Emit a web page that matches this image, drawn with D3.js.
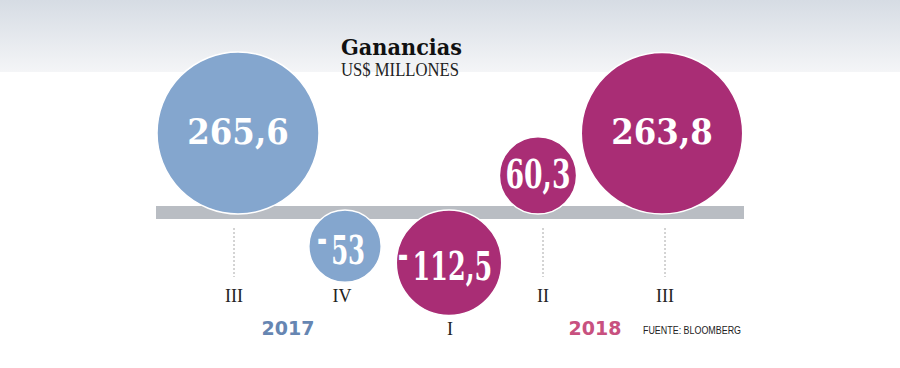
<!DOCTYPE html>
<html>
<head>
<meta charset="utf-8">
<script src="https://cdn.jsdelivr.net/npm/d3@7"></script>
<style>
  html, body { margin: 0; padding: 0; background: #fff; }
  svg { display: block; }
</style>
</head>
<body>
<svg id="chart" width="900" height="368"></svg>
<script>
// ---- data ----
const quarters = ["III", "IV", "I", "II", "III"];
const quarterYear = ["2017", "2017", "2018", "2018", "2018"];
const values = [265.6, -53, -112.5, 60.3, 263.8];
const yearLabels = ["2017", "2018"];
const title = "Ganancias";
const subtitle = "US$ MILLONES";
const source = "FUENTE: BLOOMBERG";

// ---- styles ----
const yearColor = { "2017": "#84a6ce", "2018": "#a92d75" };
const yearTextColor = { "2017": "#6686b2", "2018": "#c8517f" };

const svg = d3.select("#chart");
const defs = svg.append("defs");
const grad = defs.append("linearGradient").attr("id", "bg").attr("x1", 0).attr("x2", 0).attr("y1", 0).attr("y2", 1);
grad.append("stop").attr("offset", "0%").attr("stop-color", "#d6dce4");
grad.append("stop").attr("offset", "100%").attr("stop-color", "#f4f5f7");
svg.append("rect").attr("width", 900).attr("height", 72).attr("fill", "url(#bg)");

const idx = d3.range(values.length);
const x = d3.scaleLinear().domain(idx).range([238, 345, 449, 538, 662]);
const xLab = d3.scaleLinear().domain(idx).range([234, 342, 450, 543, 665]);
const r = d3.scaleSqrt().domain([0, d3.max(values, Math.abs)]).range([0, 81]);
const baseY = 212;
const rad = (i) => r(Math.abs(values[i]));
const small = (i) => rad(i) < 60;
const fs = (i) => small(i) ? 40 : 36;

const cy = (v) => v >= 0 ? baseY + 2 - r(Math.abs(v)) : baseY - 2 + r(Math.abs(v));
const fmt = (v) => String(Math.abs(v)).replace(".", ",");

// bar
svg.append("rect").attr("x", 156).attr("y", 206).attr("width", 588).attr("height", 13).attr("fill", "#b9bdc3");

// dashed ticks for positive
svg.selectAll("line.tick").data(idx.filter(i => values[i] >= 0)).join("line")
  .attr("x1", i => xLab(i)).attr("x2", i => xLab(i))
  .attr("y1", 228).attr("y2", 277)
  .attr("stroke", "#a8a8a8").attr("stroke-width", 1).attr("stroke-dasharray", "2,2");

// circles
svg.selectAll("circle.b").data(idx).join("circle")
  .attr("cx", i => x(i)).attr("cy", i => cy(values[i]))
  .attr("r", i => rad(i))
  .attr("fill", i => yearColor[quarterYear[i]])
  .attr("stroke", "#fff").attr("stroke-width", 1.5);

// values
const vt = svg.selectAll("text.v").data(idx).join("text")
  .attr("x", i => x(i) - (values[i] < 0 ? 4 : 0))
  .attr("y", i => cy(values[i]) + fs(i) * (values[i] >= 0 ? 0.31 : 0.44))
  .attr("text-anchor", "middle")
  .attr("fill", "#fff")
  .attr("font-family", "'DejaVu Serif Condensed', 'DejaVu Serif', serif")
  .attr("font-weight", "bold")
  .attr("font-size", i => fs(i));
vt.each(function (i) {
  const t = d3.select(this);
  if (values[i] < 0) {
    t.append("tspan").text("-").attr("dy", -12);
    t.append("tspan").text(fmt(values[i])).attr("dy", 12).attr("dx", 6);
  } else {
    t.text(fmt(values[i]));
  }
  if (small(i)) {
    const w = this.getComputedTextLength();
    t.attr("textLength", w * 0.74).attr("lengthAdjust", "spacingAndGlyphs");
  }
});

// quarter labels
svg.selectAll("text.q").data(idx).join("text")
  .attr("x", i => xLab(i))
  .attr("y", i => values[i] >= 0 ? 302 : Math.max(302, cy(values[i]) + rad(i) + 20))
  .attr("text-anchor", "middle")
  .attr("font-family", "'Liberation Serif', serif")
  .attr("font-size", 18)
  .attr("fill", "#222")
  .text(i => quarters[i]);

// year labels
const yearX = { "2017": (xLab(0) + xLab(1)) / 2, "2018": (xLab(3) + xLab(4)) / 2 - 9 };
svg.selectAll("text.y").data(yearLabels).join("text")
  .attr("x", d => yearX[d]).attr("y", 335)
  .attr("text-anchor", "middle")
  .attr("font-family", "'DejaVu Sans', sans-serif")
  .attr("font-weight", "bold")
  .attr("font-size", 19)
  .attr("fill", d => yearTextColor[d])
  .text(d => d);

// source
svg.append("text").attr("x", 643).attr("y", 334)
  .attr("font-family", "'Liberation Sans Narrow', 'Liberation Sans', sans-serif")
  .attr("font-size", 11).attr("fill", "#222")
  .attr("textLength", 98).attr("lengthAdjust", "spacingAndGlyphs")
  .text(source);

// title
svg.append("text").attr("x", 341).attr("y", 55)
  .attr("font-family", "'DejaVu Serif Condensed', 'DejaVu Serif', serif").attr("font-weight", "bold")
  .attr("font-size", 22).attr("fill", "#111")
  .attr("textLength", 121).attr("lengthAdjust", "spacingAndGlyphs")
  .text(title);
svg.append("text").attr("x", 341).attr("y", 76)
  .attr("font-family", "'Liberation Serif', serif")
  .attr("font-size", 18).attr("fill", "#222")
  .attr("textLength", 118).attr("lengthAdjust", "spacingAndGlyphs")
  .text(subtitle);
</script>
</body>
</html>
